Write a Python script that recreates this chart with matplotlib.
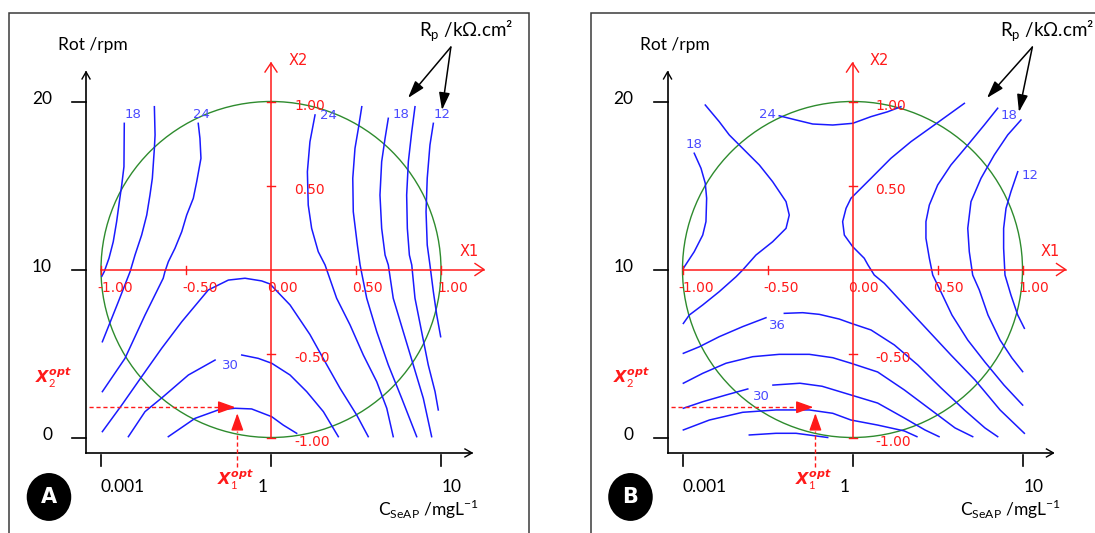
"""Two Doehlert response-surface contour maps (Rp vs C_SeAP and rotation), panels A and B."""

import matplotlib

matplotlib.use("Agg")
import matplotlib.pyplot as plt
from matplotlib.patches import Circle, Ellipse, Rectangle

plt.rcParams["mathtext.fontset"] = "custom"
plt.rcParams["mathtext.rm"] = "Lato"
plt.rcParams["mathtext.it"] = "DejaVu Sans:italic:bold"

# ---------------------------------------------------------------- data
# contour lines in coded units (X1, X2)
A_R18_L = [(-0.863, 0.870), (-0.865, 0.612), (-0.878, 0.503), (-0.892, 0.404), (-0.908, 0.285),
           (-0.928, 0.165), (-0.953, 0.067), (-0.981, -0.013), (-0.995, -0.040)]
A_R21_L = [(-0.686, 0.969), (-0.682, 0.801), (-0.686, 0.721), (-0.698, 0.543), (-0.712, 0.443),
           (-0.731, 0.324), (-0.761, 0.205), (-0.800, 0.086), (-0.829, -0.013), (-0.898, -0.192),
           (-0.992, -0.430)]
A_R24_L = [(-0.428, 0.870), (-0.418, 0.781), (-0.412, 0.662), (-0.437, 0.523), (-0.457, 0.424),
           (-0.496, 0.324), (-0.525, 0.225), (-0.565, 0.126), (-0.604, 0.046), (-0.624, -0.013),
           (-0.634, -0.052), (-0.741, -0.271), (-0.859, -0.529), (-0.992, -0.727)]
A_R27 = [(-0.992, -0.965), (-0.878, -0.807), (-0.761, -0.638), (-0.643, -0.469), (-0.525, -0.311),
         (-0.369, -0.122), (-0.251, -0.063), (-0.153, -0.052), (-0.055, -0.068), (-0.006, -0.086),
         (0.112, -0.211), (0.229, -0.387), (0.318, -0.549), (0.406, -0.707), (0.504, -0.866),
         (0.572, -0.995)]
A_R30_L = [(-0.839, -0.995), (-0.741, -0.846), (-0.634, -0.757), (-0.486, -0.628), (-0.329, -0.539)]
A_R30_R = [(-0.172, -0.509), (-0.075, -0.529), (0.004, -0.558), (0.112, -0.628), (0.210, -0.727),
           (0.308, -0.846), (0.396, -0.995)]
A_R33 = [(-0.604, -0.995), (-0.447, -0.886), (-0.310, -0.836), (-0.212, -0.826), (-0.114, -0.830),
         (0.004, -0.876), (0.072, -0.926), (0.151, -0.975)]
A_R24_R = [(0.259, 0.920), (0.229, 0.760), (0.214, 0.582), (0.219, 0.384), (0.239, 0.245),
           (0.278, 0.106), (0.318, 0.027), (0.386, -0.171), (0.465, -0.330), (0.543, -0.509),
           (0.622, -0.668), (0.681, -0.826), (0.719, -0.995)]
A_R21_R = [(0.534, 0.969), (0.514, 0.840), (0.494, 0.721), (0.481, 0.543), (0.484, 0.344),
           (0.508, 0.146), (0.524, 0.027), (0.563, -0.171), (0.622, -0.370), (0.690, -0.568),
           (0.769, -0.767), (0.857, -0.995)]
A_R18_R = [(0.690, 0.900), (0.671, 0.781), (0.651, 0.642), (0.641, 0.443), (0.651, 0.245),
           (0.671, 0.086), (0.690, 0.027), (0.719, -0.171), (0.778, -0.370), (0.837, -0.568),
           (0.896, -0.767), (0.945, -0.995)]
A_R15 = [(0.847, 0.969), (0.828, 0.821), (0.808, 0.642), (0.798, 0.443), (0.802, 0.245),
         (0.814, 0.086), (0.828, 0.027), (0.847, -0.171), (0.886, -0.370), (0.925, -0.568),
         (0.965, -0.727), (0.984, -0.836)]
A_R12 = [(0.955, 0.870), (0.935, 0.741), (0.919, 0.543), (0.912, 0.344), (0.919, 0.146),
         (0.935, 0.027), (0.955, -0.132), (0.975, -0.271), (0.998, -0.400)]

B_R18_L = [(-0.931, 0.692), (-0.891, 0.602), (-0.866, 0.513), (-0.858, 0.424), (-0.862, 0.285),
           (-0.881, 0.205), (-0.931, 0.106), (-0.995, 0.007)]
B_R21_L = [(-0.866, 0.979), (-0.784, 0.880), (-0.725, 0.801), (-0.646, 0.721), (-0.548, 0.622),
           (-0.470, 0.523), (-0.391, 0.404), (-0.372, 0.324), (-0.391, 0.245), (-0.470, 0.165),
           (-0.568, 0.086), (-0.646, -0.003), (-0.685, -0.043), (-0.784, -0.132), (-0.881, -0.211),
           (-0.960, -0.271), (-0.995, -0.321)]
B_R24_T = [(-0.431, 0.915), (-0.332, 0.890), (-0.234, 0.866), (-0.116, 0.860), (0.001, 0.870),
           (0.109, 0.910), (0.207, 0.939), (0.285, 0.969)]
B_R21_C = [(0.658, 0.989), (0.481, 0.860), (0.344, 0.761), (0.226, 0.662), (0.109, 0.543),
           (-0.009, 0.424), (-0.038, 0.364), (-0.058, 0.285), (-0.048, 0.205), (0.001, 0.136),
           (0.069, 0.067), (0.091, 0.027), (0.128, -0.033), (0.187, -0.082), (0.305, -0.211),
           (0.442, -0.360), (0.579, -0.509), (0.721, -0.658), (0.868, -0.836), (1.011, -0.975)]
B_R18_R = [(0.854, 0.960), (0.775, 0.860), (0.678, 0.741), (0.579, 0.622), (0.501, 0.503),
           (0.452, 0.384), (0.432, 0.285), (0.432, 0.186), (0.452, 0.067), (0.472, -0.033),
           (0.515, -0.122), (0.585, -0.271), (0.678, -0.420), (0.779, -0.551), (0.891, -0.688),
           (1.001, -0.807)]
B_R15 = [(0.991, 0.890), (0.913, 0.801), (0.834, 0.682), (0.756, 0.543), (0.697, 0.404),
         (0.678, 0.245), (0.687, 0.106), (0.707, -0.033), (0.746, -0.122), (0.797, -0.271),
         (0.868, -0.420), (0.938, -0.527), (1.001, -0.608)]
B_R12 = [(0.972, 0.582), (0.932, 0.463), (0.903, 0.364), (0.889, 0.245), (0.889, 0.126),
         (0.897, -0.033), (0.932, -0.152), (0.972, -0.271), (1.011, -0.350)]
B_R36_L = [(-0.995, -0.499), (-0.901, -0.460), (-0.784, -0.400), (-0.646, -0.340), (-0.509, -0.287)]
B_R36_R = [(-0.401, -0.261), (-0.293, -0.257), (-0.195, -0.267), (-0.078, -0.295), (-0.009, -0.320),
           (0.109, -0.360), (0.246, -0.449), (0.384, -0.568), (0.521, -0.705), (0.658, -0.836),
           (0.779, -0.943), (0.854, -0.995)]
B_R33 = [(-0.995, -0.677), (-0.881, -0.618), (-0.744, -0.558), (-0.587, -0.519), (-0.431, -0.505),
         (-0.254, -0.505), (-0.116, -0.525), (-0.009, -0.558), (0.148, -0.610), (0.305, -0.717),
         (0.462, -0.836), (0.603, -0.943), (0.707, -0.995)]
B_R30_L = [(-0.995, -0.826), (-0.881, -0.787), (-0.744, -0.747), (-0.616, -0.711)]
B_R30_R = [(-0.468, -0.688), (-0.309, -0.677), (-0.179, -0.695), (-0.009, -0.747), (0.148, -0.795),
           (0.305, -0.884), (0.426, -0.955), (0.509, -0.995)]
B_R27 = [(-0.995, -0.955), (-0.842, -0.896), (-0.646, -0.850), (-0.450, -0.836), (-0.254, -0.836),
         (-0.116, -0.856), (-0.009, -0.896), (0.148, -0.926), (0.305, -0.961), (0.379, -0.995)]
B_R24_B = [(-0.607, -0.985), (-0.450, -0.975), (-0.332, -0.975), (-0.146, -1.000)]

A_LINES = [A_R18_L, A_R21_L, A_R24_L, A_R27, A_R30_L, A_R30_R, A_R33,
           A_R24_R, A_R21_R, A_R18_R, A_R15, A_R12]
B_LINES = [B_R18_L, B_R21_L, B_R24_T, B_R21_C, B_R18_R, B_R15, B_R12,
           B_R36_L, B_R36_R, B_R33, B_R30_L, B_R30_R, B_R27, B_R24_B]

# contour level labels (text, X1, X2)
A_LAB_TEXT = ["18", "24", "24", "18", "12", "30"]
A_LAB_X1 = [-0.812, -0.412, 0.336, 0.762, 1.009, -0.241]
A_LAB_X2 = [0.920, 0.923, 0.917, 0.923, 0.920, -0.574]
B_LAB_TEXT = ["24", "18", "18", "12", "36", "30"]
B_LAB_X1 = [-0.503, -0.932, 0.921, 1.044, -0.440, -0.538]
B_LAB_X2 = [0.921, 0.743, 0.917, 0.562, -0.335, -0.757]

# optimum in coded units
A_OPT = (-0.21, -0.82)
B_OPT = (-0.23, -0.82)

# coded axis ticks, real axis ticks
CODED_TICKS = [-1.0, -0.5, 0.0, 0.5, 1.0]
ROT_TICKS = [0, 10, 20]
C_TICKS = [-1.0, 0.0, 1.0]
C_TICK_LABELS = ["0.001", "1", "10"]

# ---------------------------------------------------------------- layout
W, H = 1095, 533
SX, SY = 170.0, 168.0          # pixels per coded unit
OY = 269.5                     # pixel row of X2 = 0
BLUE = "#1a1aff"
LBLUE = "#4a4aff"
RED = "#ff1a1a"
GREEN = "#2e8b2e"


def px(p):
    return p / SX


def py(p):
    return p / SY


fig = plt.figure(figsize=(W / 100, H / 100), dpi=100)


def make_axes(ox, left, right):
    ax = fig.add_axes([left / W, 0, (right - left) / W, 1])
    ax.set_xlim((left - ox) / SX, (right - ox) / SX)
    ax.set_ylim((OY - H) / SY, OY / SY)
    ax.axis("off")
    return ax


def chevron(ax, tip, direction, color, lw, length, half):
    x, y = tip
    if direction == "right":
        xs = [x - px(length), x, x - px(length)]
        ys = [y + py(half), y, y - py(half)]
    else:
        xs = [x - px(half), x, x + px(half)]
        ys = [y - py(length), y, y - py(length)]
    ax.plot(xs, ys, color=color, lw=lw, solid_joinstyle="miter")


def draw_panel(ax, letter, lines, lab_text, lab_x1, lab_x2, opt, rp_tips, x2opt_x):
    # frame
    ax.add_patch(Rectangle((-1.541, -2.0), 3.06, 3.527, fill=False, ec="#3a3a3a", lw=1.1))

    # contour lines and labels
    for line in lines:
        xs, ys = zip(*line)
        ax.plot(xs, ys, color=BLUE, lw=1.1)
    for t, x, y in zip(lab_text, lab_x1, lab_x2):
        ax.text(x, y, t, color=LBLUE, fontsize=9.5, ha="center", va="center",
                family="DejaVu Sans")

    # experimental domain
    ax.add_patch(Circle((0, 0), 1.0, fill=False, ec=GREEN, lw=1.0))

    # coded red axes
    ax.plot([-1.0, 1.253], [0, 0], color=RED, lw=1.1)
    ax.plot([0, 0], [-1.0, 1.229], color=RED, lw=1.1)
    chevron(ax, (1.253, 0), "right", RED, 1.0, 9, 6)
    chevron(ax, (0, 1.229), "up", RED, 1.0, 9, 6)
    for t in CODED_TICKS:
        if t != 0:
            ax.plot([t, t], [-py(4), py(4)], color=RED, lw=1.0)
            ax.plot([-px(4), px(4)], [t, t], color=RED, lw=1.0)
    for t in CODED_TICKS:
        ax.text(t - px(4), -py(18.5), f"{t:.2f}", color=RED, fontsize=10,
                ha="left", va="center", family="DejaVu Sans")
        if t != 0:
            ax.text(px(23), t - py(4), f"{t:.2f}", color=RED, fontsize=10,
                    ha="left", va="center", family="DejaVu Sans")
    ax.text(1.165, 0.11, "X1", color=RED, fontsize=10.5, ha="center", va="center")
    ax.text(0.159, 1.247, "X2", color=RED, fontsize=10.5, ha="center", va="center")

    # real black axes
    yx, xy = -1.088, -1.092
    ax.plot([yx, yx], [xy, 1.176], color="black", lw=1.2)
    ax.plot([yx, 1.182], [xy, xy], color="black", lw=1.2)
    chevron(ax, (yx, 1.176), "up", "black", 1.0, 7, 4)
    chevron(ax, (1.182, xy), "right", "black", 1.0, 7, 4)
    for r in ROT_TICKS:
        x2 = (r - 10) / 10
        ax.plot([yx - px(14), yx], [x2, x2], color="black", lw=1.2)
        ax.text(yx - px(34), x2 + py(3), str(r), fontsize=12.5, ha="right",
                va="center", family="Lato")
    for c, lab, dx in zip(C_TICKS, C_TICK_LABELS, [22, -8, 11]):
        ax.plot([c, c], [xy - py(2), xy - py(13)], color="black", lw=1.2)
        ax.text(c + px(dx), -1.295, lab, fontsize=12.5, ha="center", va="center",
                family="Lato")
    ax.text(-1.047, 1.336, "Rot /rpm", fontsize=12.5, ha="center", va="center",
            family="Lato")
    ax.text(1.224, -1.43, r"C$_{\mathrm{SeAP}}$ /mgL$^{\mathrm{-1}}$", fontsize=12.5,
            ha="right", va="center", family="Lato")

    # panel letter
    ax.add_patch(Ellipse((-1.306, -1.354), 0.262, 0.285, fc="black", ec="none"))
    ax.text(-1.306, -1.354, letter, color="white", fontsize=15, fontweight="bold",
            ha="center", va="center", family="DejaVu Sans")

    # Rp annotation
    ax.text(1.147, 1.42, r"R$_{\mathrm{p}}$ /kΩ.cm²", fontsize=13.5, ha="center",
            va="center", family=["Lato", "DejaVu Sans"])
    for tip in rp_tips:
        ax.annotate("", xy=tip, xytext=(1.058, 1.324),
                    arrowprops=dict(arrowstyle="-|>,head_length=0.7,head_width=0.22",
                                    color="black", lw=1.1, mutation_scale=15,
                                    shrinkA=0, shrinkB=0))

    # optimum arrows
    x1o, x2o = opt
    ax.plot([-1.07, x1o - px(10)], [x2o, x2o], color=RED, lw=1.0, ls=(0, (3, 2)))
    ax.annotate("", xy=(x1o, x2o), xytext=(x1o - px(14), x2o),
                arrowprops=dict(arrowstyle="-|>,head_length=0.7,head_width=0.25",
                                color=RED, lw=1.0, mutation_scale=15, shrinkA=0, shrinkB=0))
    ax.plot([x1o + px(2), x1o + px(2)], [-1.176, x2o - py(24)], color=RED, lw=1.0,
            ls=(0, (3, 2)))
    ax.annotate("", xy=(x1o + px(2), x2o - py(6)), xytext=(x1o + px(2), x2o - py(22)),
                arrowprops=dict(arrowstyle="-|>,head_length=0.7,head_width=0.25",
                                color=RED, lw=1.0, mutation_scale=15, shrinkA=0, shrinkB=0))
    ax.text(x2opt_x, x2o + py(29), r"X$_{\mathit{2}}^{\mathit{opt}}$", color=RED,
            fontsize=11.5, fontweight="bold", style="italic", ha="center", va="center",
            family="DejaVu Sans")
    ax.text(x1o, -1.253, r"X$_{\mathit{1}}^{\mathit{opt}}$", color=RED,
            fontsize=11.5, fontweight="bold", style="italic", ha="center", va="center",
            family="DejaVu Sans")


ax_a = make_axes(271.0, 0, 547)
ax_b = make_axes(852.5, 548, 1095)
draw_panel(ax_a, "A", A_LINES, A_LAB_TEXT, A_LAB_X1, A_LAB_X2, A_OPT,
           [(0.806, 1.021), (1.006, 0.949)], -1.282)
draw_panel(ax_b, "B", B_LINES, B_LAB_TEXT, B_LAB_X1, B_LAB_X2, B_OPT,
           [(0.791, 1.021), (0.979, 0.9375)], -1.303)

fig.savefig("out.png", dpi=100, facecolor="white")
